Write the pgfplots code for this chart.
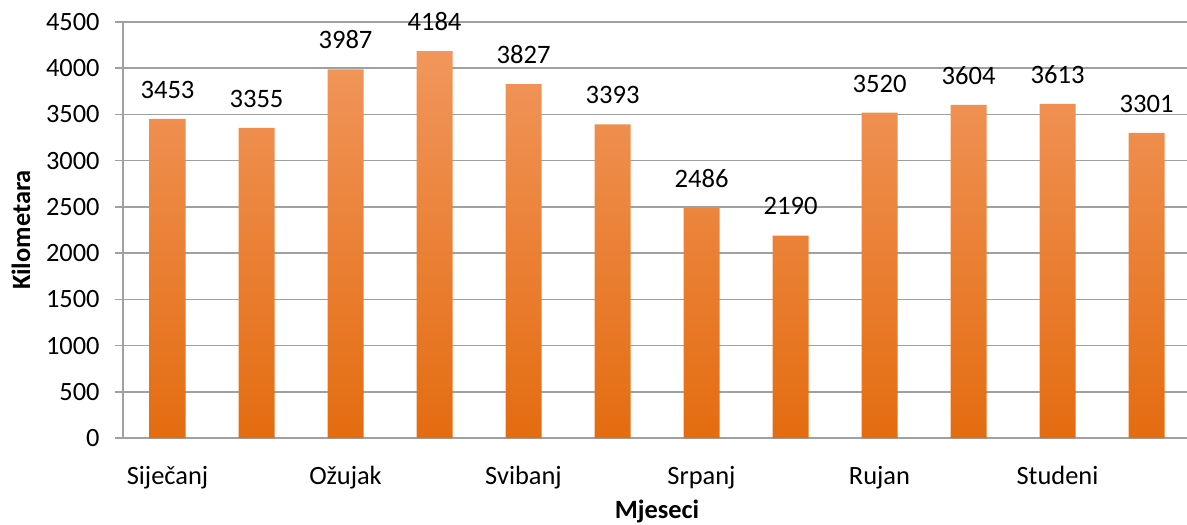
\documentclass[border=0pt]{standalone}
\usepackage{pgfplots}
\pgfplotsset{compat=1.18}
\usepackage{fontspec}
\setmainfont{Carlito}
\definecolor{bartop}{RGB}{241,150,92}
\definecolor{barbot}{RGB}{228,108,16}
\definecolor{gridc}{RGB}{160,160,160}
\begin{document}
\begin{tikzpicture}
\begin{axis}[
  at={(0,0)}, anchor=south west,
  scale only axis, width=534pt, height=208pt,
  xmin=-0.5, xmax=11.5, ymin=0, ymax=4500,
  ytick={0,500,...,4500},
  xtick={0,2,4,6,8,10},
  xticklabels={Siječanj,Ožujak,Svibanj,Srpanj,Rujan,Studeni},
  axis x line=bottom, axis y line=left,
  axis line style={-, draw=gridc, line width=0.8pt},
  ymajorgrids, grid style={gridc, line width=0.8pt},
  tick align=outside, major tick length=4pt,
  ytick style={gridc, line width=0.8pt}, xtick style={draw=none},
  /pgf/number format/assume math mode=true,
  /pgf/number format/1000 sep={},
  scaled y ticks=false,
  ticklabel style={font=\fontsize{13.2}{15}\selectfont, text=black},
  yticklabel style={anchor=east, inner sep=0pt, xshift=-7.5pt},
  xticklabel style={anchor=base, inner sep=0pt, yshift=-19pt},
  xlabel={Mjeseci}, ylabel={Kilometara},
  label style={font=\bfseries\fontsize{13.2}{15}\selectfont},
  x label style={at={(axis description cs:0.5,0)}, anchor=base, yshift=-40pt},
  y label style={at={(axis description cs:-0.0955,0.5)}, anchor=center},
  nodes near coords,
  every node near coord/.append style={anchor=south, inner sep=0pt, yshift=10pt, font=\fontsize{13.3}{15}\selectfont, text=black},
]
\addplot[ybar, bar width=18pt, draw=none, top color=bartop, bottom color=barbot]
  coordinates {(0,3453) (1,3355) (2,3987) (3,4184) (4,3827) (5,3393) (6,2486) (7,2190) (8,3520) (9,3604) (10,3613) (11,3301)};
\end{axis}
\pgfresetboundingbox
\path[use as bounding box] (-61.5pt,-43pt) rectangle (532pt,219pt);
\end{tikzpicture}
\end{document}
